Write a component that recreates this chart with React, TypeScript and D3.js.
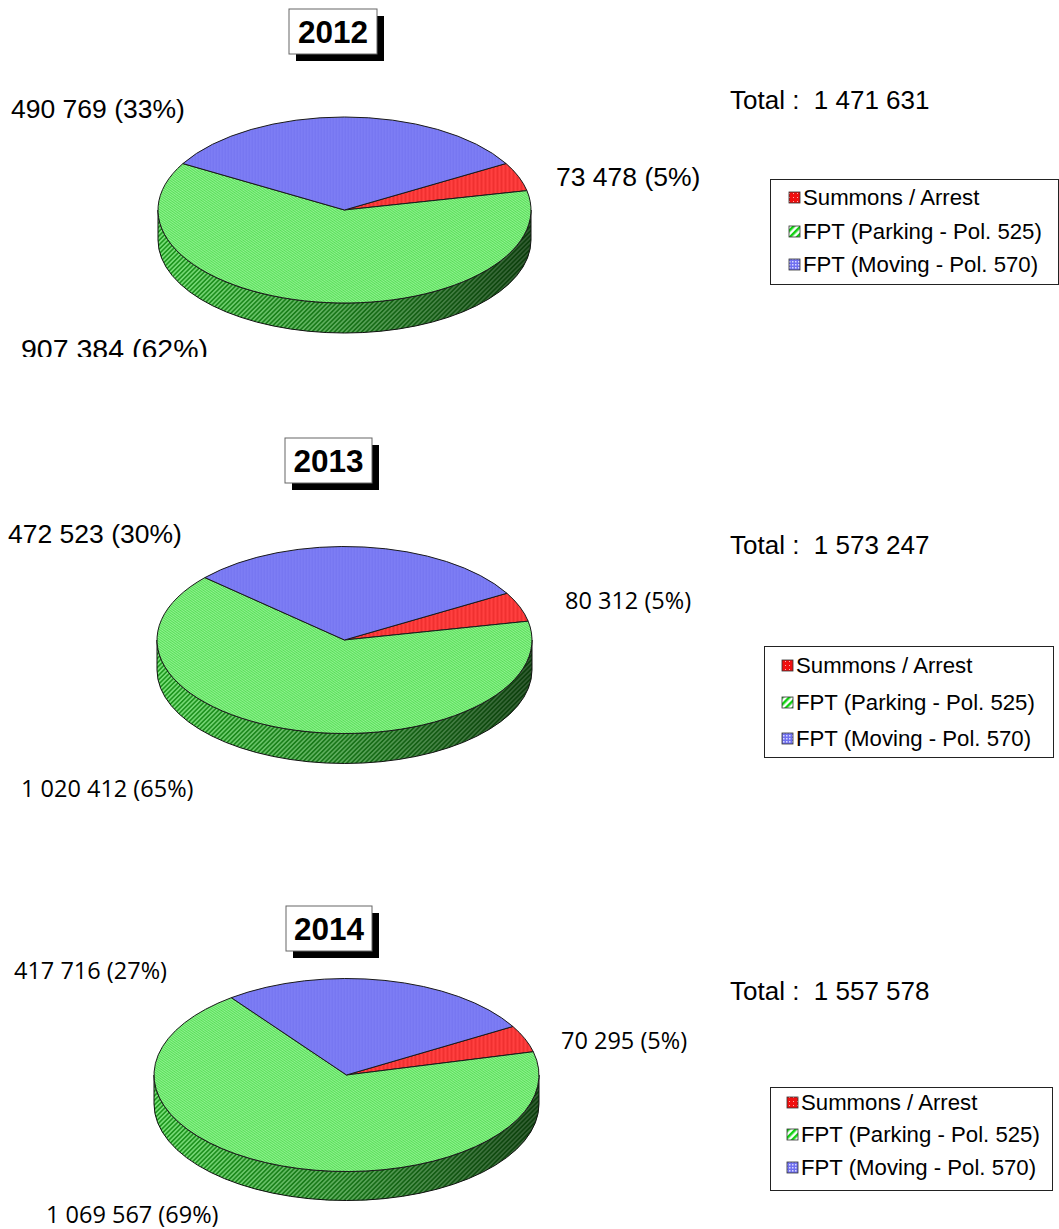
import * as d3 from "d3";

const sliceNames = ["Summons / Arrest", "FPT (Parking - Pol. 525)", "FPT (Moving - Pol. 570)"];
const fills = ["url(#hatchRed)", "url(#hatchGreen)", "url(#hatchBlue)"];
const swatches = ["url(#dotRed)", "url(#diagGreen)", "url(#checkBlue)"];

const years = ["2012", "2013", "2014"];
const values2012 = [73478, 907384, 490769];
const values2013 = [80312, 1020412, 472523];
const values2014 = [70295, 1069567, 417716];
const totals = ["1 471 631", "1 573 247", "1 557 578"];
const labels2012 = ["73 478 (5%)", "907 384 (62%)", "490 769 (33%)"];
const labels2013 = ["80 312 (5%)", "1 020 412 (65%)", "472 523 (30%)"];
const labels2014 = ["70 295 (5%)", "1 069 567 (69%)", "417 716 (27%)"];

const arial = "'Liberation Sans', Arial, sans-serif";
const calibri = "'Open Sans', sans-serif";

type Panel = {
  year: string; total: string; values: number[]; labels: string[];
  cx: number; cy: number; rx: number; ry: number; depth: number; start: number;
  titleX: number; titleY: number; titleW: number; totalY: number;
  legend: { x: number; y: number; w: number; h: number; swX: number; rows: number[] };
  labelPos: { x: number; y: number; font: string; size: number }[];
  clipBottom?: number;
};

const panels: Panel[] = [
  {
    year: years[0], total: totals[0], values: values2012, labels: labels2012,
    cx: 344.5, cy: 210, rx: 186.5, ry: 93, depth: 30, start: 60,
    titleX: 289, titleY: 9, titleW: 88, totalY: 109,
    legend: { x: 770, y: 179, w: 288, h: 105, swX: 789, rows: [197, 231, 264] },
    labelPos: [
      { x: 556, y: 186, font: arial, size: 26.5 },
      { x: 21, y: 358.5, font: arial, size: 28.5 },
      { x: 11, y: 118, font: arial, size: 26.5 },
    ],
    clipBottom: 357,
  },
  {
    year: years[1], total: totals[1], values: values2013, labels: labels2013,
    cx: 344.5, cy: 640, rx: 187.5, ry: 93.5, depth: 30, start: 60,
    titleX: 285, titleY: 438, titleW: 87, totalY: 554,
    legend: { x: 764, y: 646, w: 289, h: 111, swX: 782, rows: [665, 702, 738] },
    labelPos: [
      { x: 565, y: 609, font: calibri, size: 23.5 },
      { x: 21, y: 797, font: calibri, size: 23.5 },
      { x: 8, y: 543, font: arial, size: 26.5 },
    ],
  },
  {
    year: years[2], total: totals[2], values: values2014, labels: labels2014,
    cx: 346.5, cy: 1075, rx: 192.5, ry: 96.5, depth: 29, start: 59.8,
    titleX: 286, titleY: 906, titleW: 86, totalY: 1000,
    legend: { x: 770, y: 1087, w: 282, h: 103, swX: 787, rows: [1102, 1134, 1167] },
    labelPos: [
      { x: 561, y: 1049, font: calibri, size: 23.5 },
      { x: 46, y: 1223, font: calibri, size: 23.5 },
      { x: 14, y: 979, font: calibri, size: 23.5 },
    ],
  },
];

const rad = (deg: number) => (deg * Math.PI) / 180;

function Stripes({ id, base, stripe, angle, size = 2.4 }: { id: string; base: string; stripe: string; angle: number; size?: number }) {
  return (
    <pattern id={id} width={size} height={size} patternUnits="userSpaceOnUse" patternTransform={`rotate(${angle})`}>
      <rect width={size} height={size} fill={base} />
      <rect width={size / 2} height={size} fill={stripe} />
    </pattern>
  );
}

function Pie3D({ p }: { p: Panel }) {
  const pie = d3
    .pie<number>()
    .sort(null)
    .startAngle(rad(p.start))
    .endAngle(rad(p.start + 360));
  const arcs = pie(p.values);
  const arc = d3.arc<d3.PieArcDatum<number>>().innerRadius(0).outerRadius(p.rx);
  const squash = p.ry / p.rx;
  const left = p.cx - p.rx;
  const right = p.cx + p.rx;
  const wall = `M${left},${p.cy} A${p.rx},${p.ry} 0 0 0 ${right},${p.cy} L${right},${p.cy + p.depth} A${p.rx},${p.ry} 0 0 1 ${left},${p.cy + p.depth} Z`;
  return (
    <g>
      <path d={wall} fill="url(#hatchWall)" />
      <path d={wall} fill="url(#wallShade)" stroke="#111" strokeWidth={1} />
      <g transform={`translate(${p.cx},${p.cy}) scale(1,${squash})`}>
        {arcs.map((a, i) => (
          <path key={i} d={arc(a)!} fill={fills[i]} stroke="#1a1a1a" strokeWidth={1} vectorEffect="non-scaling-stroke" />
        ))}
      </g>
    </g>
  );
}

function Panel3D({ p, index }: { p: Panel; index: number }) {
  const titleH = 45;
  const { legend } = p;
  return (
    <g>
      <rect x={p.titleX + 7} y={p.titleY + 7} width={p.titleW} height={titleH} fill="#000" />
      <rect x={p.titleX} y={p.titleY} width={p.titleW} height={titleH} fill="#fff" stroke="#666" strokeWidth={1} />
      <text x={p.titleX + p.titleW / 2} y={p.titleY + 34} textAnchor="middle" fontFamily={arial} fontWeight="bold" fontSize={31.5} fill="#000">
        {p.year}
      </text>

      <Pie3D p={p} />

      <g clipPath={p.clipBottom ? `url(#clip${index})` : undefined}>
        {p.clipBottom && (
          <clipPath id={`clip${index}`}>
            <rect x={0} y={p.labelPos[1].y - 30} width={300} height={p.clipBottom - p.labelPos[1].y + 30} />
          </clipPath>
        )}
        <text x={p.labelPos[1].x} y={p.labelPos[1].y} fontFamily={p.labelPos[1].font} fontSize={p.labelPos[1].size} fill="#000">
          {p.labels[1]}
        </text>
      </g>
      {[0, 2].map((i) => (
        <text key={i} x={p.labelPos[i].x} y={p.labelPos[i].y} fontFamily={p.labelPos[i].font} fontSize={p.labelPos[i].size} fill="#000">
          {p.labels[i]}
        </text>
      ))}

      <text x={730} y={p.totalY} fontFamily={arial} fontSize={26} fill="#000" style={{ whiteSpace: "pre" }}>
        {`Total :  ${p.total}`}
      </text>

      <rect x={legend.x + 0.5} y={legend.y + 0.5} width={legend.w} height={legend.h} fill="#fff" stroke="#222" strokeWidth={1} />
      {sliceNames.map((name, i) => (
        <g key={name}>
          <rect x={legend.swX} y={legend.rows[i] - 5} width={11} height={11} fill={swatches[i]} stroke="#333" strokeWidth={0.8} />
          <text x={legend.swX + 14} y={legend.rows[i] + 7.5} fontFamily={arial} fontSize={22.2} fill="#000">
            {name}
          </text>
        </g>
      ))}
    </g>
  );
}

export default function App() {
  return (
    <svg width={1059} height={1229} style={{ position: "absolute", left: 0, top: 0 }}>
      <defs>
        <Stripes id="hatchRed" base="#ff4040" stripe="#f03030" angle={0} size={4} />
        <Stripes id="hatchGreen" base="#90f090" stripe="#58e058" angle={45} />
        <Stripes id="hatchBlue" base="#8080f5" stripe="#7474f0" angle={0} size={3} />
        <Stripes id="hatchWall" base="#78e078" stripe="#209a20" angle={45} size={3.2} />
        <Stripes id="diagGreen" base="#fff" stripe="#10d010" angle={45} size={5} />
        <pattern id="dotRed" width={4} height={4} patternUnits="userSpaceOnUse">
          <rect width={4} height={4} fill="#f01010" />
          <rect x={1} y={1} width={1} height={1} fill="#ffb0b0" />
        </pattern>
        <pattern id="checkBlue" width={3} height={3} patternUnits="userSpaceOnUse">
          <rect width={3} height={3} fill="#7070f0" />
          <rect width={1.5} height={1.5} fill="#d8d8ff" />
        </pattern>
        <linearGradient id="wallShade" x1="0" x2="1" y1="0" y2="0">
          <stop offset="0" stopColor="#000" stopOpacity={0} />
          <stop offset="0.5" stopColor="#000" stopOpacity={0.25} />
          <stop offset="1" stopColor="#000" stopOpacity={0.6} />
        </linearGradient>
      </defs>
      {panels.map((p, i) => (
        <Panel3D key={p.year} p={p} index={i} />
      ))}
    </svg>
  );
}
